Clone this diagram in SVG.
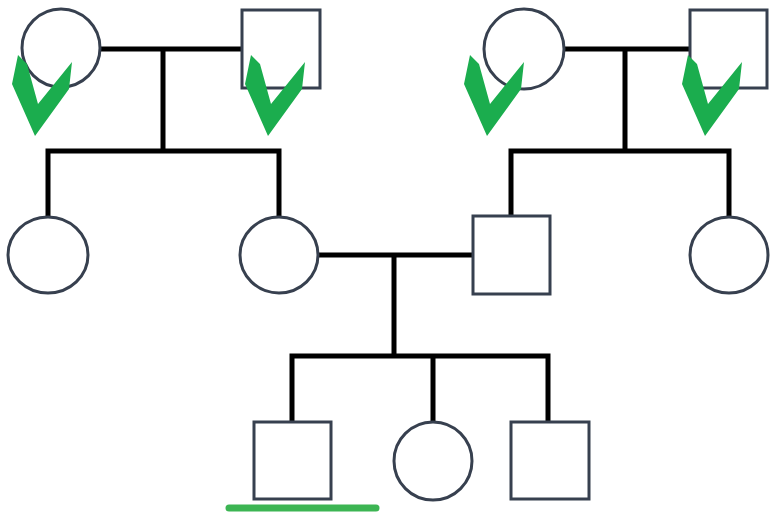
<svg xmlns="http://www.w3.org/2000/svg" xmlns:xlink="http://www.w3.org/1999/xlink" width="770" height="513" viewBox="0 0 770 513">
<style>
.node{fill:#ffffff;stroke:#37404f;stroke-width:3}
.ln{stroke:#000000;stroke-width:5;fill:none;stroke-linecap:square}
.chk{fill:#1bad4e}
</style>
<defs>
<polygon id="check" class="chk" points="18,55 27,64 38,104 72,62 69,89 35,136 12,84"/>
</defs>
<rect width="770" height="513" fill="#ffffff"/>
<g id="connectors">
<path class="ln" d="M100,49 H242 M163,49 V151 M48,151 H279 M48,151 V217 M279,151 V217"/>
<path class="ln" d="M564,49 H690 M625,49 V151 M511,151 H729 M511,151 V216 M729,151 V217"/>
<path class="ln" d="M318,255 H473 M394,255 V356 M292,356 H548 M292,356 V421 M433,356 V422 M548,356 V421"/>
</g>
<g id="n1"><circle class="node" cx="61" cy="48" r="39"/></g>
<g id="n2"><rect class="node" x="242" y="10" width="78" height="78"/></g>
<g id="n3"><circle class="node" cx="524" cy="49" r="40"/></g>
<g id="n4"><rect class="node" x="690" y="10" width="77" height="78"/></g>
<g id="n5"><ellipse class="node" cx="48" cy="255" rx="40" ry="38"/></g>
<g id="n6"><ellipse class="node" cx="279" cy="255" rx="39" ry="38"/></g>
<g id="n7"><rect class="node" x="473" y="216" width="77" height="78"/></g>
<g id="n8"><ellipse class="node" cx="729" cy="255" rx="39" ry="38"/></g>
<g id="n9"><rect class="node" x="254" y="422" width="77" height="77"/></g>
<g id="n10"><circle class="node" cx="433" cy="461" r="39"/></g>
<g id="n11"><rect class="node" x="511" y="422" width="78" height="77"/></g>
<g id="checks">
<use xlink:href="#check" href="#check"/>
<use xlink:href="#check" href="#check" x="233" y="0"/>
<use xlink:href="#check" href="#check" x="452" y="0"/>
<use xlink:href="#check" href="#check" x="670" y="0"/>
</g>
<line x1="229" y1="508" x2="376" y2="508" stroke="#3cb553" stroke-width="7" stroke-linecap="round"/>
</svg>
